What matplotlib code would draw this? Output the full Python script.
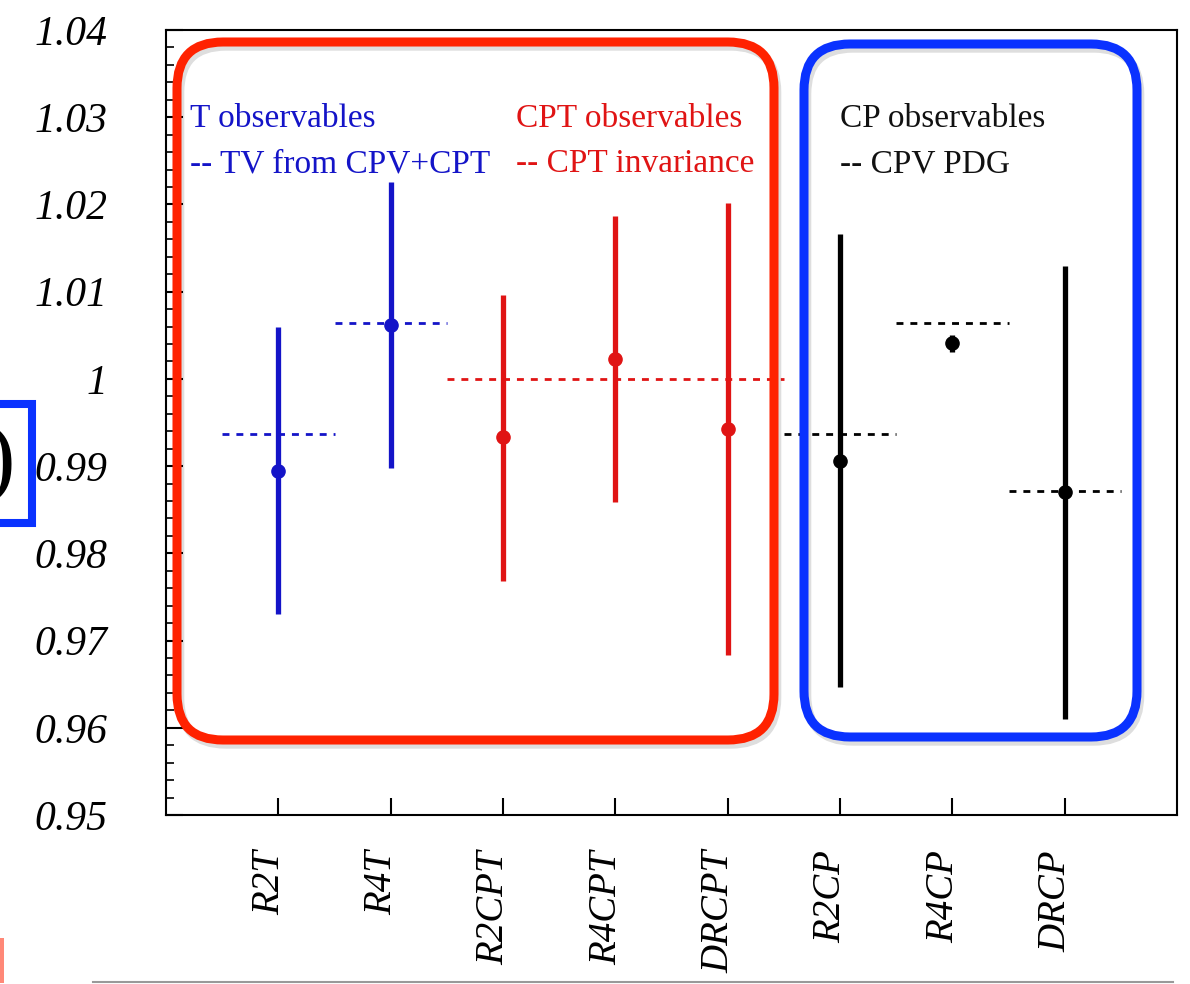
import matplotlib
matplotlib.use("Agg")
import matplotlib.pyplot as plt
import matplotlib.patheffects as pe
import matplotlib.transforms as mtransforms
from matplotlib.patches import FancyBboxPatch, Rectangle
from matplotlib.lines import Line2D
from matplotlib.ticker import MultipleLocator, FuncFormatter

plt.rcParams['font.family'] = ['Liberation Serif', 'DejaVu Serif']

labels = ['R2T', 'R4T', 'R2CPT', 'R4CPT', 'DRCPT', 'R2CP', 'R4CP', 'DRCP']
central = [0.9895, 1.0062, 0.9933, 1.0023, 0.9943, 0.9906, 1.0041, 0.9870]
upper = [1.0060, 1.0226, 1.0096, 1.0187, 1.0202, 1.0166, 1.0050, 1.0129]
lower = [0.9731, 0.9898, 0.9768, 0.9859, 0.9683, 0.9647, 1.0031, 0.9610]
# expected values (dashed lines)
expected = [0.9937, 1.0064, 1.0000, 1.0000, 1.0000, 0.9937, 1.0064, 0.9871]
colors = ['#1414c8', '#1414c8', '#e01414', '#e01414', '#e01414', 'black', 'black', 'black']

fig = plt.figure(figsize=(11.9, 9.84), dpi=100)
ax = fig.add_axes([0.1395, 0.1717, 0.8496, 0.7978])

pos = list(range(1, len(labels) + 1))

# dashed reference lines, merge neighbours with same value and colour
i = 0
while i < len(labels):
    j = i
    while j + 1 < len(labels) and expected[j + 1] == expected[i] and colors[j + 1] == colors[i]:
        j += 1
    ax.hlines(expected[i], pos[i] - 0.5, pos[j] + 0.5, colors=colors[i],
              linestyles=(0, (2.5, 2.5)), lw=2)
    i = j + 1

for x, c, lo, hi, col in zip(pos, central, lower, upper, colors):
    ax.vlines(x, lo, hi, color=col, lw=3.8)
    ax.plot(x, c, 'o', color=col, ms=9.5)

ax.set_xlim(0, 9)
ax.set_ylim(0.95, 1.04)
ax.set_xticks(pos)
ax.set_xticklabels([])
# category labels, a little left of the tick like the original
lab_tr = ax.get_xaxis_transform() + mtransforms.ScaledTranslation(-0.09, -0.35, fig.dpi_scale_trans)
for x, lab in zip(pos, labels):
    ax.text(x, 0, lab, transform=lab_tr, rotation=90, ha='center', va='top',
            fontsize=28, fontstyle='italic')

ax.yaxis.set_major_locator(MultipleLocator(0.01))
ax.yaxis.set_minor_locator(MultipleLocator(0.002))
ax.yaxis.set_major_formatter(FuncFormatter(lambda v, p: '%g' % round(v, 4)))
ax.tick_params(axis='y', which='major', direction='in', length=12, width=1.5,
               labelsize=30, pad=42)
ax.tick_params(axis='y', which='minor', direction='in', length=6, width=1.2)
ax.tick_params(axis='x', which='major', direction='in', length=12, width=1.5)
for t in ax.get_yticklabels():
    t.set_fontstyle('italic')
for s in ax.spines.values():
    s.set_linewidth(1.5)

# group captions
ax.text(0.21, 1.0289, 'T observables', color='#1414c8', fontsize=24)
ax.text(0.21, 1.0237, '-- TV from CPV+CPT', color='#1414c8', fontsize=24)
ax.text(3.12, 1.0289, 'CPT observables', color='#e01414', fontsize=24)
ax.text(3.12, 1.0237, '-- CPT invariance', color='#e01414', fontsize=24)
ax.text(6.0, 1.0289, 'CP observables', color='#111111', fontsize=24)
ax.text(6.0, 1.0237, '-- CPV PDG', color='#111111', fontsize=24)

# overlay boxes drawn in figure inches
tr = fig.dpi_scale_trans
shadow = [pe.SimpleLineShadow(offset=(2, -3), shadow_color='k', alpha=0.13), pe.Normal()]
red_box = FancyBboxPatch((1.77, 2.44), 5.97, 6.98, boxstyle='round,pad=0,rounding_size=0.46',
                         transform=tr, fill=False, ec='#ff2200', lw=6.5, path_effects=shadow)
blue_box = FancyBboxPatch((8.04, 2.47), 3.33, 6.93, boxstyle='round,pad=0,rounding_size=0.46',
                          transform=tr, fill=False, ec='#0a32ff', lw=6.5, path_effects=shadow)
fig.patches.extend([red_box, blue_box])

left_box = Rectangle((-0.5, 4.61), 0.82, 1.19, transform=tr, fill=False, ec='#0a32ff', lw=5.8)
fig.patches.append(left_box)
fig.text(0.15, 4.98, ')', transform=tr, ha='right', va='baseline', fontsize=66, color='black')

fig.patches.append(Rectangle((0, 0.01), 0.04, 0.45, transform=tr, color='#ff8877', lw=0))
fig.lines.append(Line2D([0.93, 11.73], [0.02, 0.02], transform=tr, color='#999999', lw=1.5))

fig.savefig('out.png', dpi=100)
